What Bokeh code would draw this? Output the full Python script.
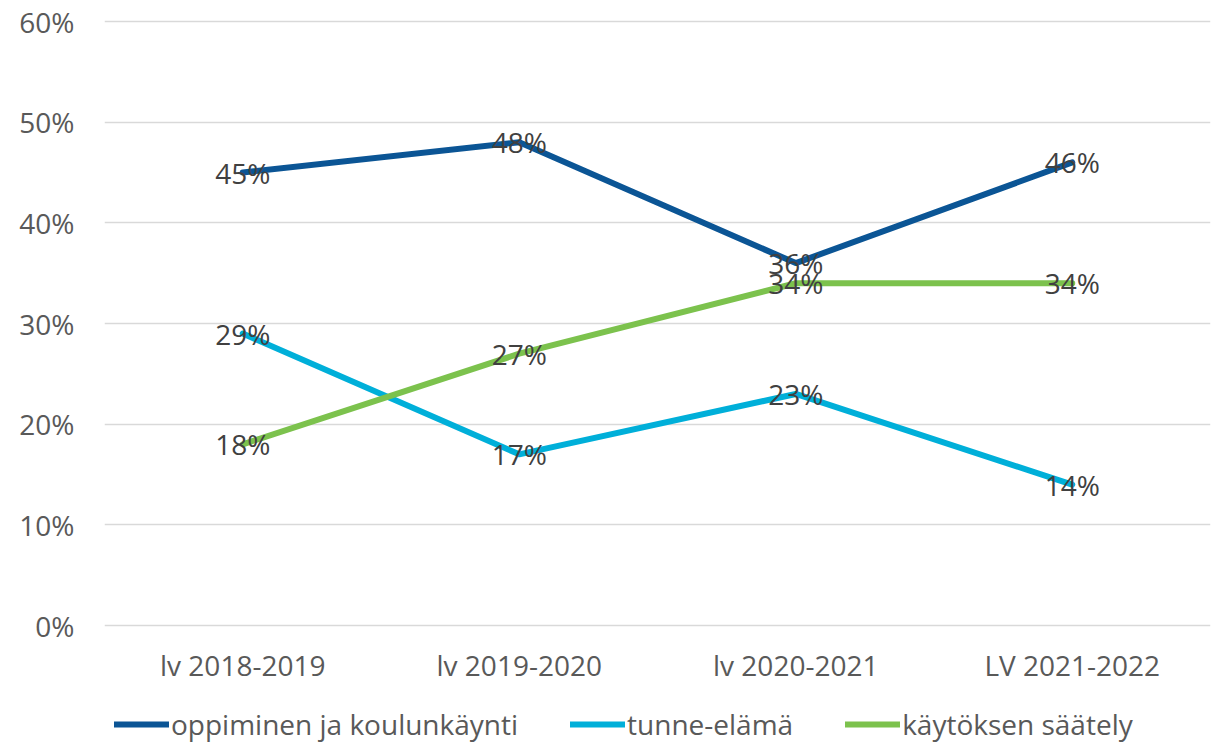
from bokeh.plotting import figure
from bokeh.models import (FactorRange, Range1d, FixedTicker, NumeralTickFormatter,
                          Legend, LegendItem, ColumnDataSource)
from bokeh.core.properties import value
from bokeh.embed import file_html
from bokeh.resources import INLINE

categories = ["lv 2018-2019", "lv 2019-2020", "lv 2020-2021", "LV 2021-2022"]
oppiminen = [0.45, 0.48, 0.36, 0.46]
tunne = [0.29, 0.17, 0.23, 0.14]
kaytos = [0.18, 0.27, 0.34, 0.34]
series_names = ["oppiminen ja koulunkäynti", "tunne-elämä", "käytöksen säätely"]
series_values = [oppiminen, tunne, kaytos]
colors = ["#0b5595", "#00afd9", "#7cc24d"]
y_ticks = [0, 0.1, 0.2, 0.3, 0.4, 0.5, 0.6]

FONT = "Open Sans"
FS = "28px"

# frame spans page y 15..743; 0% at y=625, 60% at y=21 (604 px per 0.6)
upp = 0.6 / 604
p = figure(width=1215, height=743,
           x_range=FactorRange(factors=categories, range_padding=0),
           y_range=Range1d(-118 * upp, 0.6 + 6 * upp),
           output_backend="svg", toolbar_location=None,
           min_border_left=104, min_border_right=5, min_border_top=15, min_border_bottom=0)
p.outline_line_color = None
p.background_fill_color = "white"
p.border_fill_color = "white"

p.xgrid.visible = False
p.ygrid.grid_line_color = "#d9d9d9"
p.ygrid.grid_line_width = 1.5
p.yaxis.ticker = FixedTicker(ticks=y_ticks)
p.yaxis.formatter = NumeralTickFormatter(format="0%")
p.xaxis.fixed_location = 0

for ax in (p.xaxis[0], p.yaxis[0]):
    ax.axis_line_color = None
    ax.major_tick_line_color = None
    ax.minor_tick_line_color = None
    ax.major_tick_out = 0
    ax.major_tick_in = 0
    ax.major_label_text_font = FONT
    ax.major_label_text_font_size = FS
    ax.major_label_text_color = "#595959"
p.yaxis.major_label_standoff = 30
p.xaxis.major_label_standoff = 20

renderers = []
for name, vals, col in zip(series_names, series_values, colors):
    r = p.line(categories, vals, line_color=col, line_width=6,
               line_join="round", line_cap="round")
    renderers.append((name, r))

for vals in series_values:
    src = ColumnDataSource(dict(x=categories, y=vals,
                                t=[f"{round(v * 100)}%" for v in vals]))
    p.text("x", "y", text="t", source=src, text_align="center", text_baseline="middle",
           text_font=value(FONT), text_font_size=FS, text_color="#404040")

legend = Legend(items=[LegendItem(label=n, renderers=[r]) for n, r in renderers],
                orientation="horizontal", location=(10, 0),
                label_text_font=FONT, label_text_font_size=FS,
                label_text_color="#595959", glyph_width=55, glyph_height=20,
                label_standoff=2, spacing=52, padding=0, margin=0,
                border_line_color=None, background_fill_alpha=0)
p.add_layout(legend, "center")

open("out.html", "w").write(file_html(p, INLINE))
